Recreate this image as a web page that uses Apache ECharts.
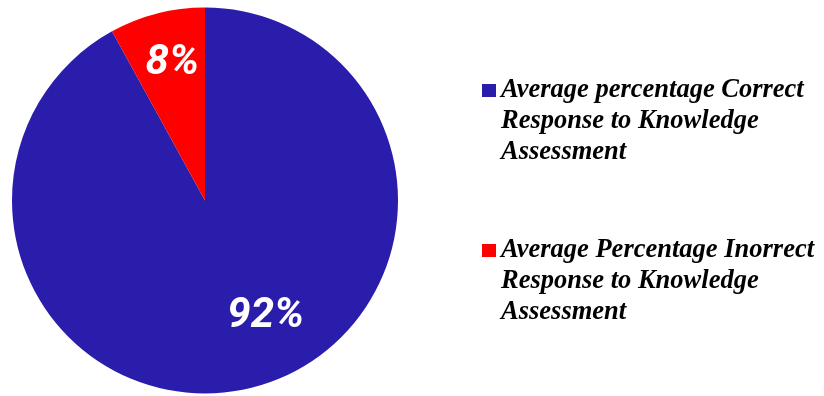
<!DOCTYPE html>
<html>
<head>
<meta charset="utf-8">
<script src="https://cdn.jsdelivr.net/npm/echarts@6/dist/echarts.min.js"></script>
<style>
  html, body { margin: 0; padding: 0; background: #fff; }
  #chart { width: 824px; height: 396px; }
</style>
</head>
<body>
<div id="chart"></div>
<script>
// Knowledge assessment results: correct vs incorrect share
const categories = [
  'Average percentage Correct\nResponse to Knowledge\nAssessment',
  'Average Percentage Inorrect\nResponse to Knowledge\nAssessment'
];
const values = [92, 8];
const colors = ['#2A1DAC', '#FF0000'];

// label nudges from the default inside position, per slice
const labelOffsets = [[36, 20], [-8, -41]];
// legend block tops
const legendTops = [13, 173];

const chart = echarts.init(document.getElementById('chart'), null, { renderer: 'canvas' });

const legendText = {
  fontFamily: '"Liberation Serif", "Times New Roman", serif',
  fontStyle: 'italic',
  fontWeight: 'bold',
  fontSize: 26.5,
  lineHeight: 31,
  color: '#000'
};

chart.setOption({
  animation: false,
  backgroundColor: '#fff',
  legend: categories.map((name, i) => ({
    data: [name],
    orient: 'vertical',
    left: 482,
    top: legendTops[i],
    padding: 0,
    itemWidth: 14,
    itemHeight: 13,
    itemGap: 0,
    icon: 'rect',
    selectedMode: false,
    // two leading blank lines keep the first text line level with the swatch
    formatter: n => '\n\n' + n,
    textStyle: legendText
  })),
  series: [{
    type: 'pie',
    center: [205, 200.5],
    radius: [0, 193],
    startAngle: 90,
    clockwise: true,
    avoidLabelOverlap: false,
    labelLine: { show: false },
    emphasis: { disabled: true },
    data: categories.map((name, i) => ({
      name,
      value: values[i],
      itemStyle: { color: colors[i] },
      label: { offset: labelOffsets[i] }
    })),
    label: {
      show: true,
      position: 'inside',
      formatter: '{c}%',
      color: '#fff',
      fontFamily: 'Roboto, "Open Sans", sans-serif',
      fontStyle: 'italic',
      fontWeight: 'bold',
      fontSize: 42
    }
  }]
});
</script>
</body>
</html>
